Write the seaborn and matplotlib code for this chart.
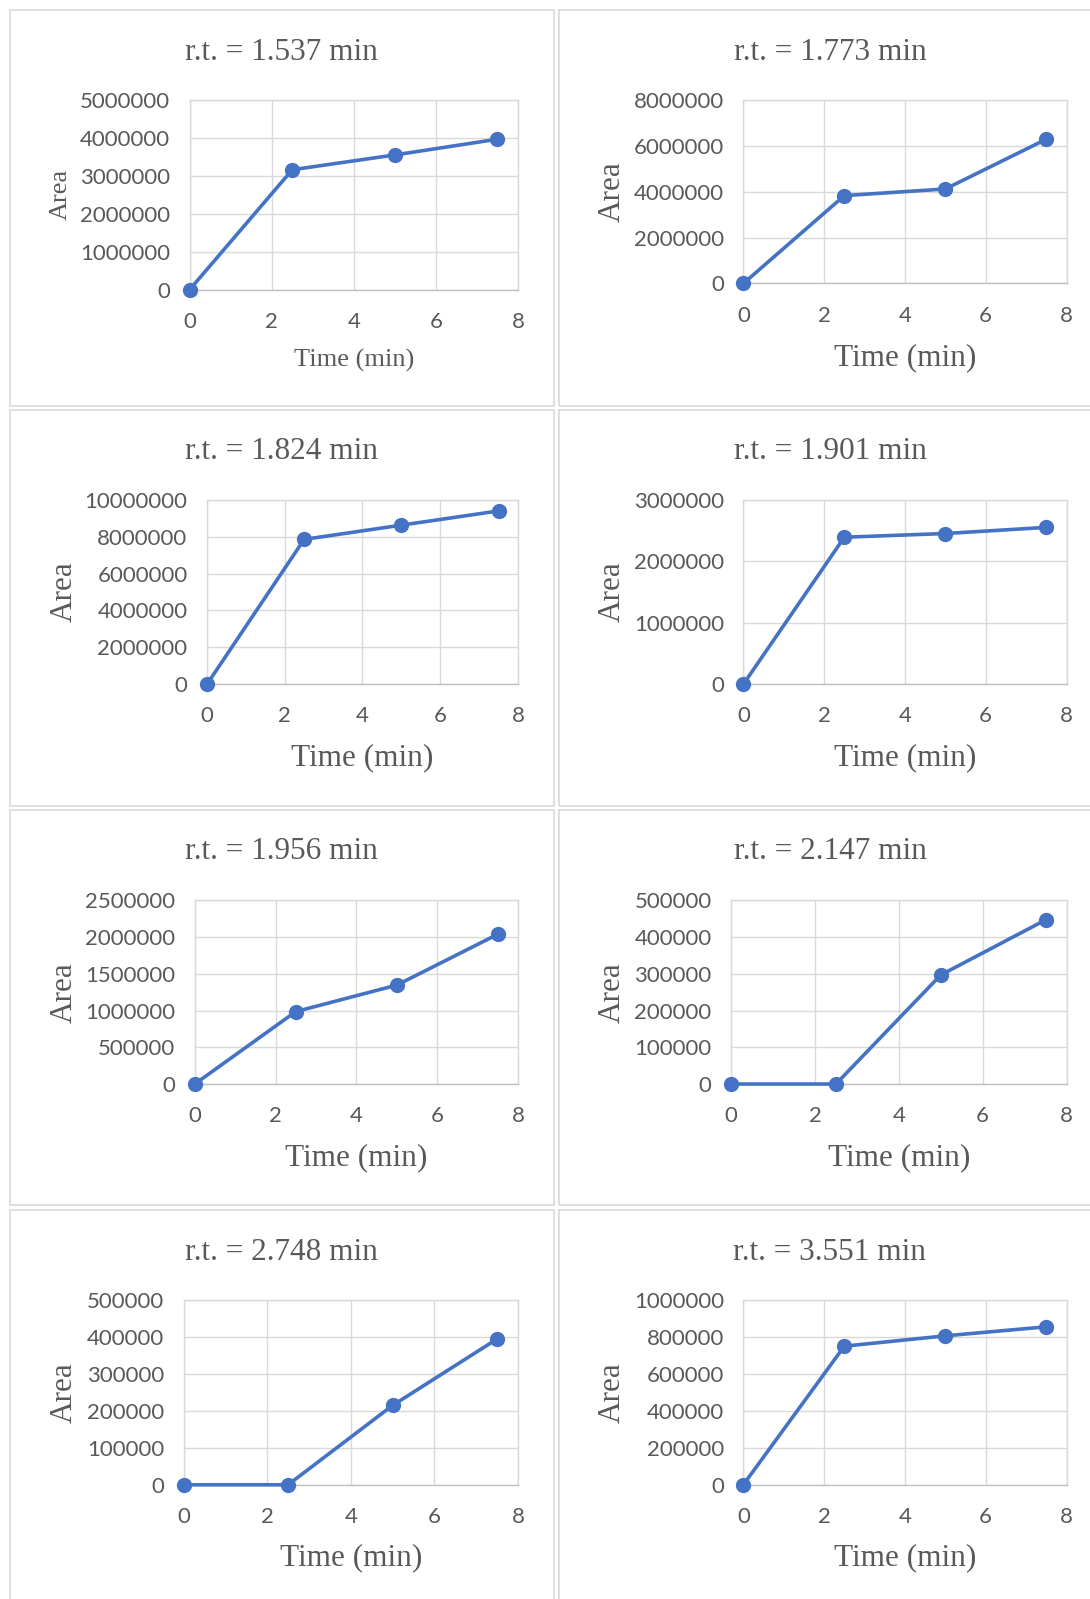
import matplotlib
matplotlib.use("Agg")
import matplotlib.pyplot as plt
from matplotlib.patches import Rectangle
from matplotlib.ticker import StrMethodFormatter
import seaborn as sns
import pandas as pd

# data
time_min = [0, 2.5, 5, 7.5]
titles = ["r.t. = 1.537 min", "r.t. = 1.773 min", "r.t. = 1.824 min", "r.t. = 1.901 min",
          "r.t. = 1.956 min", "r.t. = 2.147 min", "r.t. = 2.748 min", "r.t. = 3.551 min"]
area_1537 = [0, 3160000, 3550000, 3965000]
area_1773 = [0, 3830000, 4120000, 6290000]
area_1824 = [0, 7850000, 8620000, 9390000]
area_1901 = [0, 2390000, 2450000, 2550000]
area_1956 = [0, 986000, 1347000, 2040000]
area_2147 = [0, 0, 297000, 447000]
area_2748 = [0, 0, 215000, 395000]
area_3551 = [0, 751000, 807000, 856000]
series = [area_1537, area_1773, area_1824, area_1901,
          area_1956, area_2147, area_2748, area_3551]
y_max = [5000000, 8000000, 10000000, 3000000, 2500000, 500000, 500000, 1000000]
y_step = [1000000, 2000000, 2000000, 1000000, 500000, 100000, 100000, 200000]

# layout in reference pixels (1069 x 1568 grid)
W, H = 1069.0, 1568.0
axes_box = [(186, 98, 508, 284), (729, 98, 1046, 278),
            (203, 490, 508, 671), (729, 490, 1046, 671),
            (191, 883, 508, 1063), (717, 883, 1046, 1063),
            (180, 1275, 508, 1456), (729, 1275, 1046, 1456)]
col_x = [(10, 543), (548, 1080)]
row_y = [(10, 398), (402, 790), (794, 1182), (1187, 1575)]
title_y = [51, 443, 835, 1228]
xlabel_y = [353, 351, 743, 743, 1135, 1135, 1528, 1528]
ylabel_x = [60, 600, 63, 600, 63, 600, 63, 600]
label_size = [19, 22.5, 22.5, 22.5, 22.5, 22.5, 22.5, 22.5]

LINE = "#4472C4"
TXT = "#595959"
GRID = "#D9D9D9"
SERIF = "Liberation Serif"

sns.set_theme(style="white")
plt.rcParams["font.family"] = ["Lato", "DejaVu Sans"]

fig = plt.figure(figsize=(10.9, 15.99), dpi=100)


def fx(px):
    return px / W


def fy(py):
    return 1 - py / H


# panel frames
for (x0, x1) in col_x:
    for (y0, y1) in row_y:
        fig.patches.append(Rectangle((fx(x0), fy(y1)), fx(x1 - x0), (y1 - y0) / H,
                                     transform=fig.transFigure, fill=False,
                                     edgecolor=GRID, linewidth=1.2))

for i, vals in enumerate(series):
    l, t, r, b = axes_box[i]
    ax = fig.add_axes([fx(l), fy(b), fx(r - l), (b - t) / H])
    df = pd.DataFrame({"Time (min)": time_min, "Area": vals})
    sns.lineplot(data=df, x="Time (min)", y="Area", ax=ax, color=LINE,
                 linewidth=2.6, marker="o", markersize=11,
                 markeredgecolor=LINE, markeredgewidth=0)
    for ln in ax.lines:
        ln.set_clip_on(False)
        ln.set_zorder(5)
    ax.set_xlim(0, 8)
    ax.set_ylim(0, y_max[i])
    ax.set_xticks(range(0, 9, 2))
    ax.set_yticks(range(0, y_max[i] + 1, y_step[i]))
    ax.yaxis.set_major_formatter(StrMethodFormatter("{x:.0f}"))
    ax.grid(True, color=GRID, linewidth=1)
    ax.set_axisbelow(True)
    for s in ax.spines.values():
        s.set_color(GRID)
        s.set_linewidth(1)
    ax.spines["bottom"].set_color("#BFBFBF")
    ax.tick_params(length=0, labelsize=16, labelcolor=TXT)
    ax.tick_params(axis="y", pad=14)
    ax.tick_params(axis="x", pad=16)

    ax.set_xlabel("Time (min)", family=SERIF, fontsize=label_size[i], color=TXT)
    ax.set_ylabel("Area", family=SERIF, fontsize=label_size[i], color=TXT)
    ax.xaxis.set_label_coords(fx((l + r) / 2), fy(xlabel_y[i]), transform=fig.transFigure)
    ax.xaxis.label.set_va("center")
    ax.yaxis.set_label_coords(fx(ylabel_x[i]), fy((t + b) / 2), transform=fig.transFigure)
    ax.yaxis.label.set_va("center")

    cx0, cx1 = col_x[i % 2]
    fig.text(fx((cx0 + cx1) / 2), fy(title_y[i // 2]), titles[i], family=SERIF,
             fontsize=22.5, color=TXT, ha="center", va="center")

fig.savefig("out.png", dpi=100, facecolor="white")
